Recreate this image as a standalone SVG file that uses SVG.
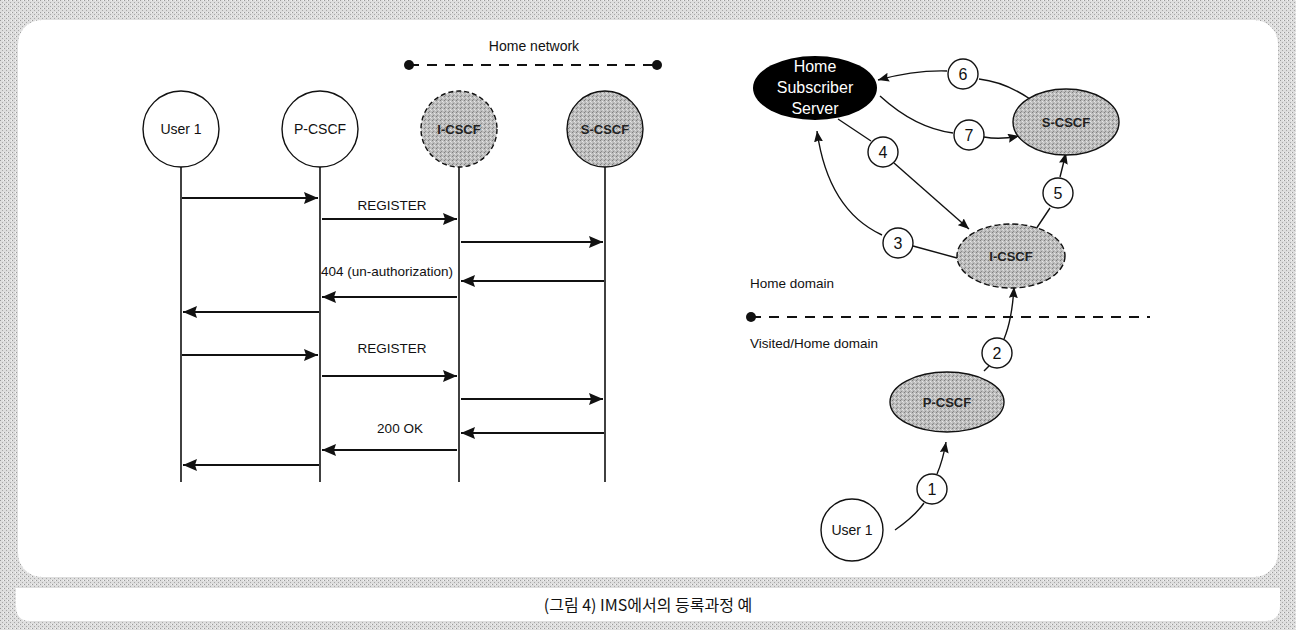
<svg xmlns="http://www.w3.org/2000/svg" width="1296" height="630" viewBox="0 0 1296 630">
<style>
text{font-family:"Liberation Sans",Arial,sans-serif;fill:#111}
.lbl{font-size:13.5px}
.nl{font-size:14px;text-anchor:middle}
.nb{font-size:13px;font-weight:bold;text-anchor:middle;fill:#222}
.num{font-size:16px;text-anchor:middle}
.seq{stroke:#111;stroke-width:2;fill:none}
.life{stroke:#111;stroke-width:1.6;fill:none}
.con{stroke:#111;stroke-width:1.4;fill:none}
.node{stroke:#111;stroke-width:1.4}
.dash{stroke:#111;stroke-width:1.8;stroke-dasharray:10 8;fill:none}
</style>
<defs>
<pattern id="frame" width="4" height="4" patternUnits="userSpaceOnUse">
<rect width="4" height="4" fill="#dedede"/>
<rect x="0" y="0" width="1" height="1" fill="#9a9a9a"/>
<rect x="2" y="2" width="1" height="1" fill="#a8a8a8"/>
<rect x="3" y="0" width="1" height="1" fill="#f4f4f4"/>
</pattern>
<pattern id="tex" width="4" height="4" patternUnits="userSpaceOnUse">
<rect width="4" height="4" fill="#bdbdbd"/>
<rect x="0" y="0" width="1" height="1" fill="#7f7f7f"/>
<rect x="2" y="1" width="1" height="1" fill="#e6e6e6"/>
<rect x="1" y="3" width="1" height="1" fill="#8c8c8c"/>
<rect x="3" y="2" width="1" height="1" fill="#dadada"/>
</pattern>
<marker id="ah" markerWidth="14" markerHeight="12" refX="14" refY="6" orient="auto" markerUnits="userSpaceOnUse">
<path d="M0,0 L14,6 L0,12 L2,6 z" fill="#111"/>
</marker>
<marker id="as" markerWidth="11" markerHeight="9" refX="11" refY="4.5" orient="auto" markerUnits="userSpaceOnUse">
<path d="M0,0 L11,4.5 L0,9 L1.5,4.5 z" fill="#111"/>
</marker>
</defs>
<g id="background">
<rect width="1296" height="630" fill="url(#frame)"/>
<rect x="18" y="20" width="1260" height="557" rx="24" fill="#fff"/>
<path d="M16,588 H1280 V606 Q1280,621 1265,621 H30 Q16,621 16,606 Z" fill="#fff"/>
</g>
<g id="caption"><text x="648" y="611" style="font-size:16px;text-anchor:middle;font-family:'Noto Sans CJK KR','Liberation Sans',sans-serif">(그림 4) IMS에서의 등록과정 예</text></g>

<g id="home-network">
<text x="534" y="51" style="font-size:14px;text-anchor:middle">Home network</text>
<line x1="409" y1="65" x2="657" y2="65" class="dash"/>
<circle cx="409" cy="65" r="5" fill="#111"/>
<circle cx="657" cy="65" r="5" fill="#111"/>
</g>

<g id="seq-user1"><circle cx="181" cy="129" r="38" fill="#fff" class="node"/><text x="181" y="134" class="nl">User 1</text><line x1="181" y1="167" x2="181" y2="482" class="life"/></g>
<g id="seq-pcscf"><circle cx="320" cy="129" r="38" fill="#fff" class="node"/><text x="320" y="134" class="nl">P-CSCF</text><line x1="320" y1="167" x2="320" y2="482" class="life"/></g>
<g id="seq-icscf"><circle cx="459" cy="129" r="38" fill="url(#tex)" class="node" stroke-dasharray="5 3"/><text x="459" y="134" class="nb">I-CSCF</text><line x1="459" y1="167" x2="459" y2="482" class="life"/></g>
<g id="seq-scscf"><circle cx="605" cy="129" r="38" fill="url(#tex)" class="node"/><text x="605" y="134" class="nb">S-CSCF</text><line x1="605" y1="167" x2="605" y2="482" class="life"/></g>

<g id="seq-messages">
<path d="M182,198 H318" class="seq" marker-end="url(#ah)"/>
<path d="M322,219 H457" class="seq" marker-end="url(#ah)"/>
<path d="M461,242 H603" class="seq" marker-end="url(#ah)"/>
<path d="M604,281 H461" class="seq" marker-end="url(#ah)"/>
<path d="M457,297 H322" class="seq" marker-end="url(#ah)"/>
<path d="M319,312 H183" class="seq" marker-end="url(#ah)"/>
<path d="M182,355 H318" class="seq" marker-end="url(#ah)"/>
<path d="M322,376 H457" class="seq" marker-end="url(#ah)"/>
<path d="M461,399 H603" class="seq" marker-end="url(#ah)"/>
<path d="M604,433 H461" class="seq" marker-end="url(#ah)"/>
<path d="M457,450 H322" class="seq" marker-end="url(#ah)"/>
<path d="M319,465 H183" class="seq" marker-end="url(#ah)"/>
<text x="392" y="210" class="lbl" text-anchor="middle">REGISTER</text>
<text x="321" y="276" class="lbl">404 (un-authorization)</text>
<text x="392" y="353" class="lbl" text-anchor="middle">REGISTER</text>
<text x="400" y="433" class="lbl" text-anchor="middle">200 OK</text>
</g>

<g id="domains">
<text x="750" y="288" class="lbl">Home domain</text>
<line x1="751" y1="317" x2="1150" y2="317" class="dash"/>
<circle cx="751" cy="317" r="5" fill="#111"/>
<text x="750" y="348" class="lbl">Visited/Home domain</text>
</g>

<g id="connectors">
<path d="M1030,99 Q1005,82 979,79" class="con"/>
<path d="M947,71 Q915,70 878,80" class="con" marker-end="url(#as)"/>
<path d="M880,96 Q915,128 953,133" class="con"/>
<path d="M984,137 Q1000,140 1019,136" class="con" marker-end="url(#as)"/>
<path d="M838,119 L871,141" class="con"/>
<path d="M894,163 L969,229" class="con" marker-end="url(#as)"/>
<path d="M957,258 Q935,252 913,246" class="con"/>
<path d="M882,235 Q828,210 817,131" class="con" marker-end="url(#as)"/>
<path d="M1036,229 L1050,208" class="con"/>
<path d="M1060,177 Q1063,165 1066,153" class="con" marker-end="url(#as)"/>
<path d="M984,371 L989,366" class="con"/>
<path d="M1004,339 Q1012,320 1014,287" class="con" marker-end="url(#as)"/>
<path d="M895,530 Q915,516 924,503" class="con"/>
<path d="M937,474 Q943,460 946,442" class="con" marker-end="url(#as)"/>
</g>

<g id="hss"><ellipse cx="815" cy="88" rx="62" ry="32" fill="#000"/><text x="815" y="72" style="font-size:16px;text-anchor:middle;fill:#fff">Home</text><text x="815" y="93" style="font-size:16px;text-anchor:middle;fill:#fff">Subscriber</text><text x="815" y="114" style="font-size:16px;text-anchor:middle;fill:#fff">Server</text></g>
<g id="scscf"><ellipse cx="1066" cy="122" rx="53" ry="33" fill="url(#tex)" class="node"/><text x="1066" y="127" class="nb">S-CSCF</text></g>
<g id="icscf"><ellipse cx="1011" cy="256" rx="54" ry="32" fill="url(#tex)" class="node" stroke-dasharray="6 3"/><text x="1011" y="261" class="nb">I-CSCF</text></g>
<g id="pcscf"><ellipse cx="947" cy="402" rx="57" ry="30" fill="url(#tex)" class="node"/><text x="947" y="407" class="nb">P-CSCF</text></g>
<g id="user1"><circle cx="852" cy="530" r="31" fill="#fff" class="node"/><text x="852" y="535" class="nl">User 1</text></g>

<g id="step1"><circle cx="932" cy="489" r="15" fill="#fff" class="node"/><text x="932" y="495" class="num">1</text></g>
<g id="step2"><circle cx="997" cy="353" r="15" fill="#fff" class="node"/><text x="997" y="359" class="num">2</text></g>
<g id="step3"><circle cx="898" cy="243" r="15" fill="#fff" class="node"/><text x="898" y="249" class="num">3</text></g>
<g id="step4"><circle cx="883" cy="152" r="15" fill="#fff" class="node"/><text x="883" y="158" class="num">4</text></g>
<g id="step5"><circle cx="1058" cy="193" r="15" fill="#fff" class="node"/><text x="1058" y="199" class="num">5</text></g>
<g id="step6"><circle cx="963" cy="74" r="15" fill="#fff" class="node"/><text x="963" y="80" class="num">6</text></g>
<g id="step7"><circle cx="969" cy="135" r="15" fill="#fff" class="node"/><text x="969" y="141" class="num">7</text></g>
</svg>
